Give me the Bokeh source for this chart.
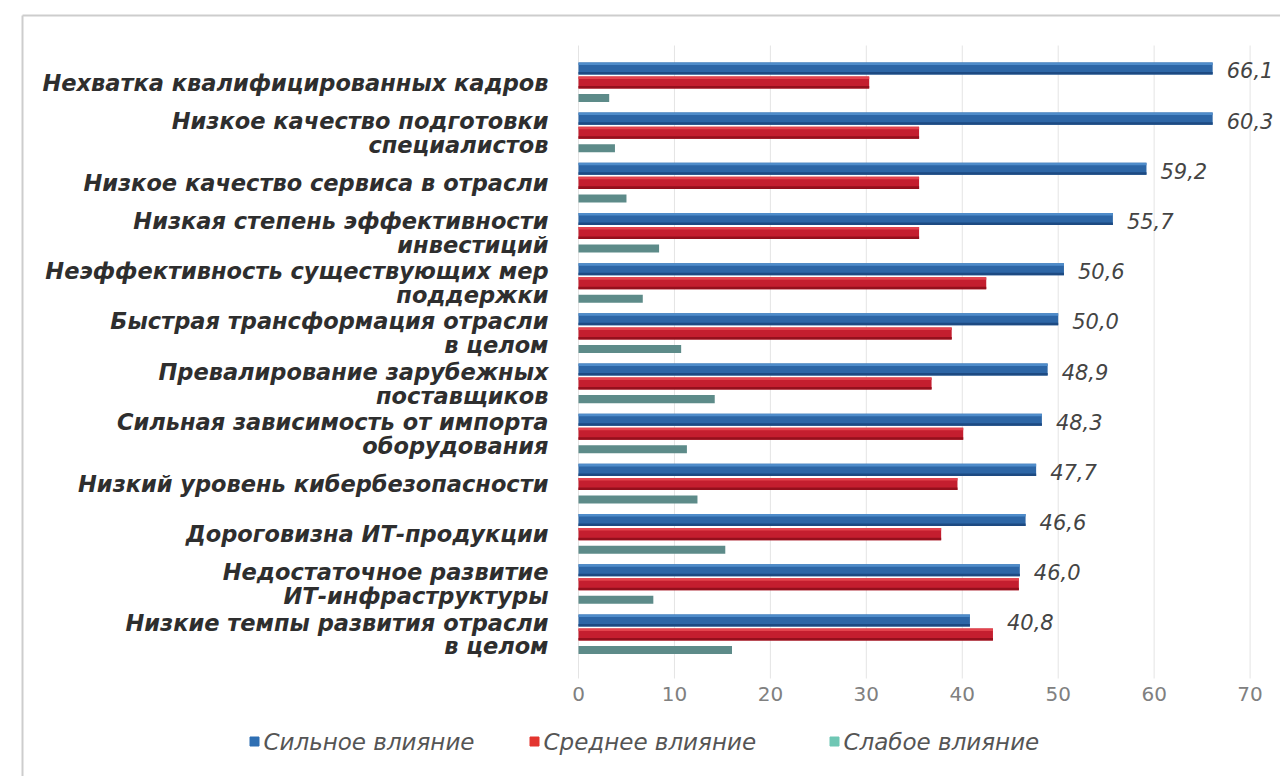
from bokeh.plotting import figure
from bokeh.models import Range1d, ColumnDataSource
from bokeh.core.properties import value
from bokeh.embed import file_html
from bokeh.resources import INLINE

categories = [
    "Нехватка квалифицированных кадров",
    "Низкое качество подготовки\nспециалистов",
    "Низкое качество сервиса в отрасли",
    "Низкая степень эффективности\nинвестиций",
    "Неэффективность существующих мер\nподдержки",
    "Быстрая трансформация отрасли\nв целом",
    "Превалирование зарубежных\nпоставщиков",
    "Сильная зависимость от импорта\nоборудования",
    "Низкий уровень кибербезопасности",
    "Дороговизна ИТ-продукции",
    "Недостаточное развитие\nИТ-инфраструктуры",
    "Низкие темпы развития отрасли\nв целом",
]
strong = [66.1, 66.1, 59.2, 55.7, 50.6, 50.0, 48.9, 48.3, 47.7, 46.6, 46.0, 40.8]
strong_labels = ["66,1", "60,3", "59,2", "55,7", "50,6", "50,0",
                 "48,9", "48,3", "47,7", "46,6", "46,0", "40,8"]
medium = [30.3, 35.5, 35.5, 35.5, 42.5, 38.9, 36.8, 40.1, 39.5, 37.8, 45.9, 43.2]
weak = [3.2, 3.8, 5.0, 8.4, 6.7, 10.7, 14.2, 11.3, 12.4, 15.3, 7.8, 16.0]
series_names = ["Сильное влияние", "Среднее влияние", "Слабое влияние"]
x_ticks = [0, 10, 20, 30, 40, 50, 60, 70]

bar_colors = ["#2d66a6", "#c41e2f", "#5d8b89"]
bar_light = ["#4f8cca", "#e2434d"]
bar_dark = ["#1d4a82", "#94101d"]
legend_colors = ["#2f6fb3", "#e3342f", "#6fc7b4"]

# layout constants
PX_X = 9.594      # pixels per 1 unit of value
PX_Y = 50.18      # pixels per category
X0, Y0 = 578, 82  # pixel position of value 0 / first category
W, H = 1280, 776


def xd(px):
    return (px - X0) / PX_X


def yd(py):
    return (py - Y0) / PX_Y


idx = list(range(len(categories)))
y_strong = [i - 0.28 for i in idx]
src = ColumnDataSource(dict(
    y=idx,
    y_strong=y_strong,
    y_weak=[i + 0.31 for i in idx],
    y_strong_top=[v - 0.095 for v in y_strong],
    y_strong_bot=[v + 0.095 for v in y_strong],
    y_med_top=[i - 0.095 for i in idx],
    y_med_bot=[i + 0.095 for i in idx],
    strong=strong, medium=medium, weak=weak,
    lab_x=[max(a, b) for a, b in zip(strong, medium)],
    lab=strong_labels,
    cat=categories,
    zero=[0] * len(idx),
))

p = figure(width=W, height=H, output_backend="svg", toolbar_location=None,
           x_range=Range1d(xd(0), xd(W)), y_range=Range1d(yd(H), yd(0)),
           x_axis_type=None, y_axis_type=None,
           min_border=0, outline_line_color=None,
           background_fill_color="white", border_fill_color="white")
p.grid.visible = False

# card frame: light grey line on top and left
p.segment(x0=[xd(22), xd(22)], y0=[yd(15), yd(15)],
          x1=[xd(W), xd(22)], y1=[yd(15), yd(H)],
          line_color="#cdcdcd", line_width=2)

# vertical grid lines at the ticks
p.segment(x0=x_ticks, x1=x_ticks, y0=[yd(45)] * len(x_ticks),
          y1=[yd(678)] * len(x_ticks), line_color="#e4e4e4", line_width=1)

# bars
p.hbar(y="y_strong", left=0, right="strong", height=0.24, source=src,
       fill_color=bar_colors[0], line_color=None)
p.hbar(y="y", left=0, right="medium", height=0.24, source=src,
       fill_color=bar_colors[1], line_color=None)
p.hbar(y="y_weak", left=0, right="weak", height=0.16, source=src,
       fill_color=bar_colors[2], line_color=None)

# light top strip / dark bottom strip (shading of the bars)
p.hbar(y="y_strong_top", left=0, right="strong", height=0.05, source=src,
       fill_color=bar_light[0], line_color=None)
p.hbar(y="y_strong_bot", left=0, right="strong", height=0.05, source=src,
       fill_color=bar_dark[0], line_color=None)
p.hbar(y="y_med_top", left=0, right="medium", height=0.05, source=src,
       fill_color=bar_light[1], line_color=None)
p.hbar(y="y_med_bot", left=0, right="medium", height=0.05, source=src,
       fill_color=bar_dark[1], line_color=None)

# value labels
p.text(x="lab_x", y="y_strong", text="lab", source=src,
       x_offset=14, y_offset=2, text_align="left", text_baseline="middle",
       text_font=value("DejaVu Sans"), text_font_style="italic",
       text_font_size=value("21px"), text_color="#444444")

# category labels
p.text(x="zero", y="y", text="cat", source=src,
       x_offset=-30, text_align="right", text_baseline="middle",
       text_font=value("DejaVu Sans"), text_font_style="bold italic",
       text_font_size=value("22.5px"), text_line_height=0.92,
       text_color="#2e2e2e")

# x tick labels
p.text(x=x_ticks, y=[yd(693)] * len(x_ticks),
       text=[str(t) for t in x_ticks], text_align="center",
       text_baseline="middle", text_font=value("DejaVu Sans"),
       text_font_size=value("20px"), text_color="#808080")

# legend
leg_x = [xd(254), xd(534), xd(834)]
leg_y = [yd(741)] * 3
p.scatter(x=leg_x, y=leg_y, marker="square", size=9, color=legend_colors)
p.text(x=leg_x, y=leg_y, text=series_names, x_offset=9,
       text_align="left", text_baseline="middle",
       text_font=value("DejaVu Sans"), text_font_style="italic",
       text_font_size=value("23px"), text_color="#555555")

open("out.html", "w").write(file_html(p, INLINE))
